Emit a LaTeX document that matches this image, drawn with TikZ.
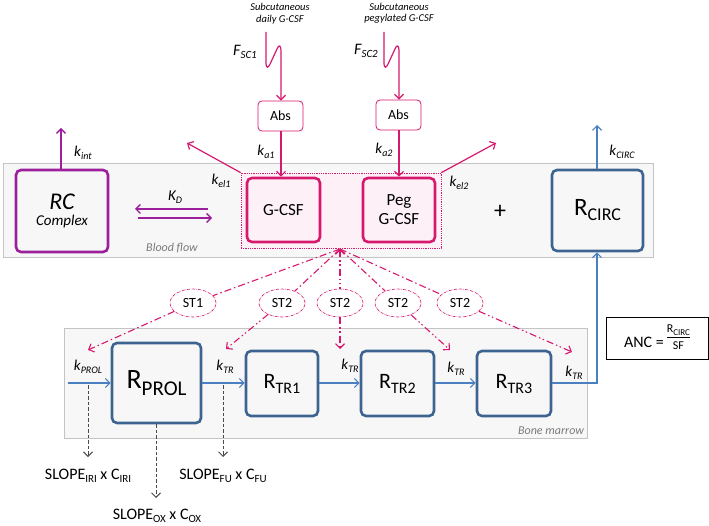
\documentclass[tikz,border=0pt]{standalone}
\usepackage{fontspec}
\setmainfont{Carlito}
\usetikzlibrary{arrows.meta,shapes.geometric}
\definecolor{pinkc}{HTML}{D6186E}
\definecolor{pinkfill}{HTML}{FDF1F7}
\definecolor{purplec}{HTML}{9C1F9C}
\definecolor{bluebox}{HTML}{3D6491}
\definecolor{bluearr}{HTML}{4A7FC1}
\definecolor{bandfill}{HTML}{F7F7F7}
\definecolor{bandline}{HTML}{C4C4C4}
\definecolor{graytxt}{HTML}{7A7A7A}
\definecolor{dashgray}{HTML}{4A4A4A}
\newcommand{\fs}[1]{\fontsize{#1}{#1}\selectfont}
\newcommand{\lsub}[3]{\raisebox{-#1}{\fs{#2}#3}}
\newcommand{\klab}[1]{{\fs{15}\itshape k\lsub{3pt}{10}{#1}}}
\begin{document}
\begin{tikzpicture}[x=1pt,y=-1pt,
  tip/.style={-{Straight Barb[length=4.5pt,width=9pt]}},
  band/.style={draw=bandline,fill=bandfill,line width=0.7pt},
  pinkbox/.style={draw=pinkc,fill=pinkfill,line width=2.6pt,rounded corners=5pt,inner sep=0pt,align=center},
  bluebx/.style={draw=bluebox,fill=bandfill,line width=2.6pt,rounded corners=5pt,inner sep=0pt},
  absbox/.style={draw=pinkc,fill=white,line width=0.8pt,rounded corners=4pt,minimum width=45pt,minimum height=30pt,inner sep=0pt,font=\fs{14}},
  stnode/.style={ellipse,draw=pinkc,densely dash dot,line width=0.6pt,fill=white,minimum width=46pt,minimum height=28pt,inner sep=0pt,font=\fs{14}},
  pinkarr/.style={tip,draw=pinkc,color=pinkc,line width=1.2pt},
  purparr/.style={tip,draw=purplec,line width=1.3pt},
  bluearrow/.style={tip,draw=bluearr,line width=1.2pt},
  stline/.style={draw=pinkc,line width=1.1pt,dash pattern=on 7pt off 3pt on 1.5pt off 3pt},
  stline2/.style={draw=pinkc,line width=1.1pt,dash pattern=on 7pt off 3pt on 1.5pt off 2.5pt on 1.5pt off 3pt},
  grayarr/.style={tip,draw=dashgray,line width=1pt,dash pattern=on 3.5pt off 2pt},
  lbl/.style={inner sep=0pt}
]
\useasboundingbox (0,0) rectangle (709,526);

% bands
\node[band,minimum width=650pt,minimum height=94pt,inner sep=0pt] (blood) at (328,210) {};
\node[band,minimum width=523pt,minimum height=110pt,inner sep=0pt] (bone) at (325.5,383) {};
\node[lbl,text=graytxt,font=\fs{12}\itshape] (bflab) at (172,248) {Blood flow};
\node[lbl,text=graytxt,font=\fs{12}\itshape] (bmlab) at (551,431) {Bone marrow};

% dotted pink region
\node[draw=pinkc,fill=pinkfill,densely dotted,line width=0.8pt,minimum width=200pt,minimum height=75pt,inner sep=0pt] (dbox) at (341,210.5) {};

% top compartments
\node[draw=purplec,fill=bandfill,line width=2.6pt,rounded corners=5pt,minimum width=92pt,minimum height=82pt,inner sep=0pt,align=center,font=\fs{15}] (rc) at (62,211)
  {{\fs{24}\itshape RC}\\[1pt]{\itshape Complex}};
\node[pinkbox,minimum width=73pt,minimum height=64pt,font=\fs{17}] (gcsf) at (283.5,210) {G-CSF};
\node[pinkbox,minimum width=72pt,minimum height=64pt,font=\fs{17}] (peg) at (399,210) {Peg\\[2pt]G-CSF};
\node[bluebx,minimum width=91pt,minimum height=81pt] (rcirc) at (597.5,210.5)
  {{\fs{25}R}\lsub{5pt}{18}{CIRC}};
\node[lbl,font=\fs{24}] (plus) at (500,212) {+};

% absorption
\node[absbox] (abs1) at (280.5,116) {Abs};
\node[absbox] (abs2) at (398.5,115) {Abs};
\node[lbl,align=center,font=\fs{10.5}\itshape] (sc1) at (280,13.5) {Subcutaneous\\[1pt]daily G-CSF};
\node[lbl,align=center,font=\fs{10.5}\itshape] (sc2) at (399,13.5) {Subcutaneous\\[1pt]pegylated G-CSF};
\coordinate (w1) at (266,32);
\coordinate (w2) at (384,32);
\draw[pinkarr] (w1) -- (266,62) .. controls (266,69) and (268,69) .. (271,62) -- (277,49) .. controls (279,44) and (281,45) .. (281,52) -- (abs1.north -| 281,0);
\draw[pinkarr] (w2) -- (384,62) .. controls (384,69) and (386,69) .. (389,62) -- (395,49) .. controls (397,44) and (399,45) .. (399,52) -- (abs2.north -| 399,0);
\node[lbl] (fsc1) at (245,52) {{\fs{16}\itshape F}\lsub{3pt}{11}{\itshape SC1}};
\node[lbl] (fsc2) at (366,51) {{\fs{16}\itshape F}\lsub{3pt}{11}{\itshape SC2}};

\draw[pinkarr] (abs1.south -| 281,0) -- (gcsf.north -| 281,0);
\draw[pinkarr] (abs2.south -| 399,0) -- (peg.north -| 399,0);
\node[lbl] (ka1) at (266,152) {\klab{a1}};
\node[lbl] (ka2) at (384,150) {\klab{a2}};

% elimination
\coordinate (el1) at (187,143);
\coordinate (el2) at (496,143);
\draw[pinkarr] (dbox.north west) -- (el1);
\draw[pinkarr] (dbox.north east) -- (el2);
\node[lbl] (kel1) at (221,181) {\klab{el1}};
\node[lbl] (kel2) at (459,183) {\klab{el2}};

% internalisation, circulation out
\coordinate (kint) at (61,128);
\draw[purparr] (rc.north -| kint) -- (kint);
\node[lbl] (kintl) at (83,153) {\klab{int}};
\coordinate (kcirc) at (597,125);
\draw[bluearrow] (rcirc.north -| kcirc) -- (kcirc);
\node[lbl] (kcircl) at (622,152) {\klab{CIRC}};

% KD
\coordinate (kd1a) at (208,209);
\coordinate (kd1b) at (135,209);
\coordinate (kd2a) at (138,218);
\coordinate (kd2b) at (212,218);
\draw[purparr] (kd1a) -- (kd1b);
\draw[purparr] (kd2a) -- (kd2b);
\node[lbl] (kd) at (175,197) {{\fs{15}\itshape K}\lsub{3pt}{10}{\itshape D}};

% bone marrow compartments
\node[bluebx,minimum width=89pt,minimum height=80pt] (rprol) at (156.5,383)
  {{\fs{28}R}\lsub{7pt}{21}{PROL}};
\node[bluebx,minimum width=72pt,minimum height=65pt] (rtr1) at (282,383.5)
  {{\fs{22}R}\lsub{5pt}{16}{TR1}};
\node[bluebx,minimum width=73pt,minimum height=65pt] (rtr2) at (397.5,383.5)
  {{\fs{22}R}\lsub{5pt}{16}{TR2}};
\node[bluebx,minimum width=74pt,minimum height=65pt] (rtr3) at (514,383.5)
  {{\fs{22}R}\lsub{5pt}{16}{TR3}};

\coordinate (kpin) at (68,383);
\draw[bluearrow] (kpin) -- (rprol.west |- kpin);
\draw[bluearrow] (rprol.east |- kpin) -- (rtr1.west |- kpin);
\draw[bluearrow] (rtr1.east |- kpin) -- (rtr2.west |- kpin);
\draw[bluearrow] (rtr2.east |- kpin) -- (rtr3.west |- kpin);
\draw[bluearrow] (rtr3.east |- kpin) -| (rcirc.south -| kcirc);
\node[lbl] (kprol) at (88,367) {\klab{PROL}};
\node[lbl] (ktr1) at (225,367) {\klab{TR}};
\node[lbl] (ktr2) at (350,366) {\klab{TR}};
\node[lbl] (ktr3) at (456,369) {\klab{TR}};
\node[lbl] (ktr4) at (574,373) {\klab{TR}};

% ANC
\node[draw=black,line width=0.8pt,minimum width=102pt,minimum height=42pt,inner sep=0pt,font=\fs{16}] (anc) at (657,338)
  {ANC =\kern3pt\raisebox{5pt}{\begin{tabular}{@{}c@{}}\fs{12}R\lsub{2pt}{9}{CIRC}\\[-1pt]\hline\noalign{\vskip1pt}\fs{12}SF\end{tabular}}};

% stimulation
\coordinate (conv) at (340,249);
\node[stnode] (st1) at (193,303) {ST1};
\node[stnode] (st2) at (282,303) {ST2};
\node[stnode] (st3) at (340,303) {ST2};
\node[stnode] (st4) at (398,303) {ST2};
\node[stnode] (st5) at (460,303) {ST2};
\draw[stline] (conv) -- (st1);
\draw[stline] (conv) -- (st2);
\draw[stline2,{Straight Barb[length=4.5pt,width=9pt]}-] (conv) -- (st3);
\draw[stline] (conv) -- (st4);
\draw[stline] (conv) -- (st5);
\coordinate (t1) at (88,350);
\coordinate (t2) at (226,349);
\coordinate (t3) at (340,349);
\coordinate (t4) at (450,350);
\coordinate (t5) at (572,352);
\draw[stline,tip] (st1) -- (t1);
\draw[stline2,tip] (st2) -- (t2);
\draw[stline2,tip] (st3) -- (t3);
\draw[stline2,tip] (st4) -- (t4);
\draw[stline2,tip] (st5) -- (t5);

% drug effects
\coordinate (d1) at (88,385);
\coordinate (d3) at (223,385);
\node[lbl,font=\fs{16}] (slope1) at (88,476) {SLOPE\lsub{3pt}{11}{IRI} x C\lsub{3pt}{11}{IRI}};
\node[lbl,font=\fs{16}] (slope2) at (157,516) {SLOPE\lsub{3pt}{11}{OX} x C\lsub{3pt}{11}{OX}};
\node[lbl,font=\fs{16}] (slope3) at (223,476) {SLOPE\lsub{3pt}{11}{FU} x C\lsub{3pt}{11}{FU}};
\draw[grayarr] (d1) -- (d1 |- 0,457);
\draw[grayarr] (rprol.south -| 156,0) -- (156,498);
\draw[grayarr] (d3) -- (d3 |- 0,457);
\end{tikzpicture}
\end{document}
